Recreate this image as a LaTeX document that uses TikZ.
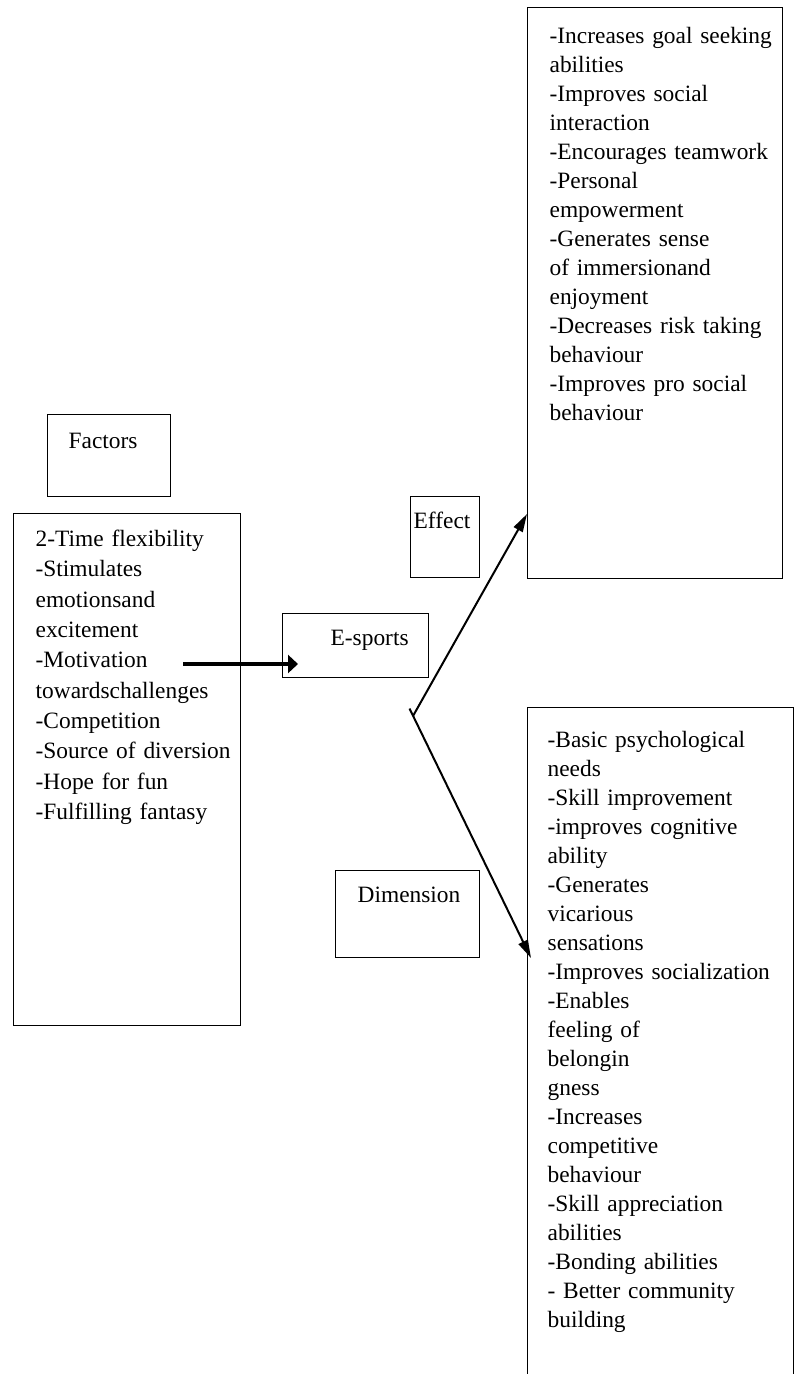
\documentclass[tikz,border=0pt]{standalone}
\usepackage{fontspec}
\setmainfont{Liberation Serif}
\usetikzlibrary{arrows.meta}
\tikzset{
	listbox/.style={draw,line width=1.3pt,anchor=north west,inner sep=0pt,align=left,
		execute at begin node={\leftskip=#1\relax}},
	thinarrow/.style={line width=2pt,-{Triangle[length=18pt,width=10pt]}},
	thickarrow/.style={line width=3.3pt,-{Triangle[length=10pt,width=18pt]}}
}
\begin{document}
\begin{tikzpicture}[x=1pt,y=-1pt,font=\fontsize{23.4pt}{29pt}\selectfont]
				\useasboundingbox (0,0) rectangle (795,1374);
				\node[listbox=21pt,text width=123pt,text height=34pt,text depth=48pt] (factors) at (47,414) {Factors};
				\node[listbox=22pt,text width=227pt,text height=33pt,text depth=479pt,
					font=\fontsize{23.4pt}{30.3pt}\selectfont] (factlist) at (13,513)
					{2-Time flexibility\\-Stimulates\\emotionsand\\excitement\\-Motivation\\towardschallenges\\-Competition\\-Source of diversion\\-Hope for fun\\-Fulfilling fantasy};
				\node[listbox=48pt,text width=146pt,text height=32pt,text depth=32pt] (esports) at (282,613) {E-sports};
				\node[listbox=3pt,text width=69pt,text height=32pt,text depth=49pt] (effect) at (410,496) {Effect};
				\node[listbox=22pt,text width=255pt,text height=36pt,text depth=535pt] (efflist) at (527,7)
					{-Increases goal seeking\\abilities\\-Improves social\\interaction\\-Encourages teamwork\\-Personal\\empowerment\\-Generates sense\\of immersionand\\enjoyment\\-Decreases risk taking\\behaviour\\-Improves pro social\\behaviour};
				\node[listbox=22pt,text width=144pt,text height=32pt,text depth=55pt] (dimension) at (335,870) {Dimension};
				\node[listbox=20pt,text width=266pt,text height=40pt,text depth=660pt] (dimlist) at (527,707)
					{-Basic psychological\\needs\\-Skill improvement\\-improves cognitive\\ability\\-Generates\\vicarious\\sensations\\-Improves socialization\\-Enables\\feeling of\\belongin\\gness\\-Increases\\competitive\\behaviour\\-Skill appreciation\\abilities\\-Bonding abilities\\- Better community\\building};
				\coordinate (motiv) at (183,664);
				\coordinate (esin) at (298,664);
				\coordinate (fork) at (413,716);
				\coordinate (forktop) at (409.5,708.5);
				\coordinate (efftip) at (527,514);
				\coordinate (dimtip) at (531,958);
				\draw[thickarrow] (motiv) -- (esin);
				\draw[thinarrow] (fork) -- (efftip);
				\draw[thinarrow] (forktop) -- (dimtip);
\end{tikzpicture}
\end{document}
